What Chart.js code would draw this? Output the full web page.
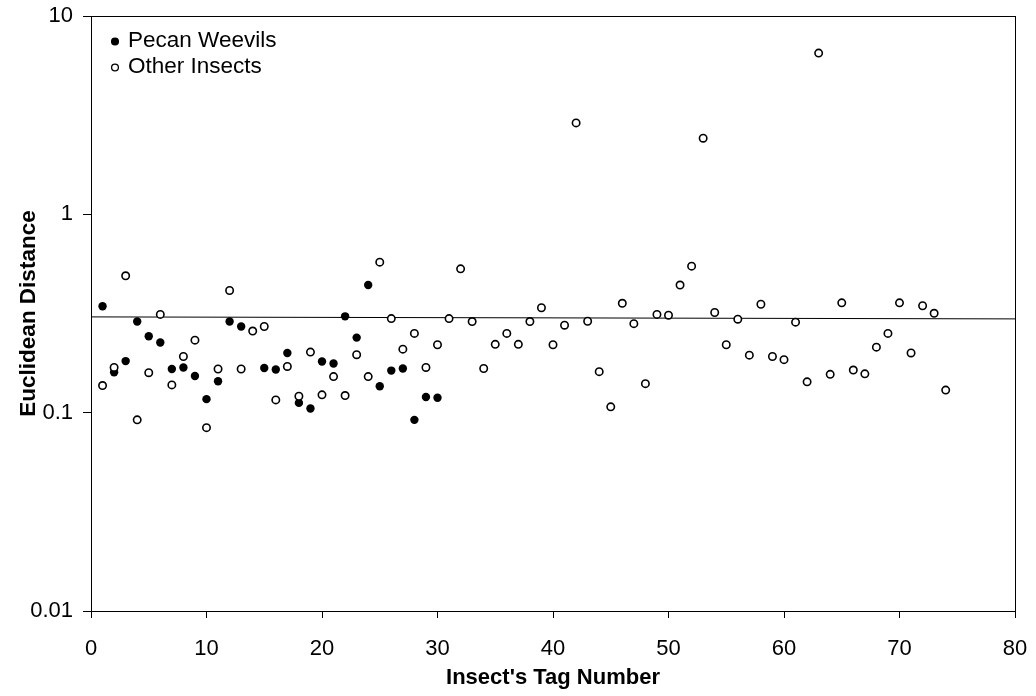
<!DOCTYPE html>
<html>
<head>
<meta charset="utf-8">
<script src="https://cdn.jsdelivr.net/npm/chart.js@4/dist/chart.umd.min.js"></script>
<style>
  html, body { margin: 0; padding: 0; background: #fff; }
  #wrap { width: 1036px; height: 696px; position: relative; }
</style>
</head>
<body>
<div id="wrap"><canvas id="c" width="1036" height="696"></canvas></div>
<script>
// ---- data ----
const pecanLabel = "Pecan Weevils";
const otherLabel = "Other Insects";
const xTitle = "Insect's Tag Number";
const yTitle = "Euclidean Distance";

const pecanX = [1,2,3,4,5,6,7,8,9,10,11,12,13,15,16,17,18,19,20,21,22,23,24,25,26,27,28,29,30];
const pecanY = [0.344,0.160,0.182,0.288,0.243,0.226,0.166,0.169,0.153,0.117,0.144,0.288,0.272,0.168,0.165,0.200,0.112,0.105,0.181,0.177,0.306,0.239,0.440,0.136,0.163,0.167,0.092,0.120,0.119];

const otherX = [1,2,3,4,5,6,7,8,9,10,11,12,13,14,15,16,17,18,19,20,21,22,23,24,25,26,27,28,29,30,31,32,33,34,35,36,37,38,39,40,41,42,43,44,45,46,47,48,49,50,51,52,53,54,55,56,57,58,59,60,61,62,63,64,65,66,67,68,69,70,71,72,73,74];
const otherY = [0.137,0.169,0.490,0.092,0.159,0.313,0.138,0.192,0.232,0.084,
                0.166,0.413,0.166,0.258,0.272,0.116,0.171,0.121,0.202,0.123,
                0.152,0.122,0.196,0.152,0.574,0.298,0.209,0.251,0.169,0.220,
                0.298,0.531,0.288,0.167,0.221,0.251,0.221,0.288,0.338,0.220,
                0.276,2.890,0.289,0.161,0.107,0.356,0.281,0.140,0.313,0.310,
                0.440,0.548,2.420,0.320,0.220,0.296,0.195,0.352,0.192,0.185,
                0.286,0.143,6.500,0.156,0.358,0.164,0.157,0.214,0.251,0.358,
                0.200,0.346,0.317,0.130];

const lineX = [0, 80];
const lineY = [0.304, 0.297];

const xTicks = [0,10,20,30,40,50,60,70,80];
const yTicks = [0.01, 0.1, 1, 10];

// ---- chart ----
const FONT = "'Liberation Sans', Arial, sans-serif";
const toPts = (xs, ys) => xs.map((x, i) => ({x: x, y: ys[i]}));

const boxPlugin = {
  id: 'box',
  afterDraw(chart) {
    const {ctx, chartArea: a} = chart;
    ctx.save();
    ctx.strokeStyle = '#000';
    ctx.lineWidth = 1;
    ctx.strokeRect(Math.round(a.left) + 0.5, Math.round(a.top) + 0.5,
                   Math.round(a.right - a.left), Math.round(a.bottom - a.top));
    ctx.restore();
  }
};

const legendPlugin = {
  id: 'innerLegend',
  afterDraw(chart) {
    const {ctx} = chart;
    const rows = [
      {ds: chart.data.datasets[1], y: 41},
      {ds: chart.data.datasets[0], y: 67}
    ];
    ctx.save();
    ctx.font = "22.5px " + FONT;
    ctx.textBaseline = 'middle';
    ctx.textAlign = 'left';
    rows.forEach(r => {
      ctx.beginPath();
      ctx.arc(115, r.y + 0.5, 3.4, 0, Math.PI * 2);
      ctx.fillStyle = r.ds.backgroundColor;
      ctx.fill();
      ctx.lineWidth = 1.3;
      ctx.strokeStyle = r.ds.borderColor;
      ctx.stroke();
      ctx.fillStyle = '#000';
      ctx.fillText(r.ds.label, 128, r.y);
    });
    ctx.restore();
  }
};

new Chart(document.getElementById('c'), {
  type: 'scatter',
  data: {
    datasets: [
      {
        label: otherLabel,
        data: toPts(otherX, otherY),
        pointRadius: 3.7,
        pointBorderWidth: 1.6,
        backgroundColor: '#ffffff',
        borderColor: '#000000',
        order: 0
      },
      {
        label: pecanLabel,
        data: toPts(pecanX, pecanY),
        pointRadius: 4.2,
        pointBorderWidth: 0,
        backgroundColor: '#000000',
        borderColor: '#000000',
        order: 1
      },
      {
        type: 'line',
        label: 'trend',
        data: toPts(lineX, lineY),
        borderColor: '#000000',
        borderWidth: 1,
        pointRadius: 0,
        fill: false,
        order: 2
      }
    ]
  },
  options: {
    responsive: false,
    animation: false,
    devicePixelRatio: 1,
    layout: { padding: { left: 0, top: 16, right: 21, bottom: 0 } },
    plugins: {
      legend: { display: false },
      tooltip: { enabled: false }
    },
    scales: {
      x: {
        type: 'linear',
        min: 0, max: 80,
        afterBuildTicks: s => { s.ticks = xTicks.map(v => ({value: v})); },
        afterFit: s => { s.height = 85; s.paddingLeft = 0; s.paddingRight = 0; },
        grid: { display: true, drawOnChartArea: false, drawTicks: true, tickLength: 7, color: '#000', lineWidth: 1 },
        border: { display: true, color: '#000', width: 1 },
        ticks: { color: '#000', font: { family: FONT, size: 22 }, padding: 18, maxRotation: 0 },
        title: { display: true, text: xTitle, color: '#000', font: { family: FONT, size: 22, weight: 'bold' }, padding: { top: 0, bottom: 5 } }
      },
      y: {
        type: 'logarithmic',
        min: 0.01, max: 10,
        afterBuildTicks: s => { s.ticks = yTicks.map(v => ({value: v})); },
        afterFit: s => { s.width = 91; s.paddingTop = 0; s.paddingBottom = 0; },
        grid: { display: true, drawOnChartArea: false, drawTicks: true, tickLength: 8, color: '#000', lineWidth: 1 },
        border: { display: true, color: '#000', width: 1 },
        ticks: { color: '#000', font: { family: FONT, size: 22 }, padding: 10, callback: v => String(v) },
        title: { display: true, text: yTitle, color: '#000', font: { family: FONT, size: 22.5, weight: 'bold' }, padding: { top: 15, bottom: 0 } }
      }
    }
  },
  plugins: [boxPlugin, legendPlugin]
});
</script>
</body>
</html>
